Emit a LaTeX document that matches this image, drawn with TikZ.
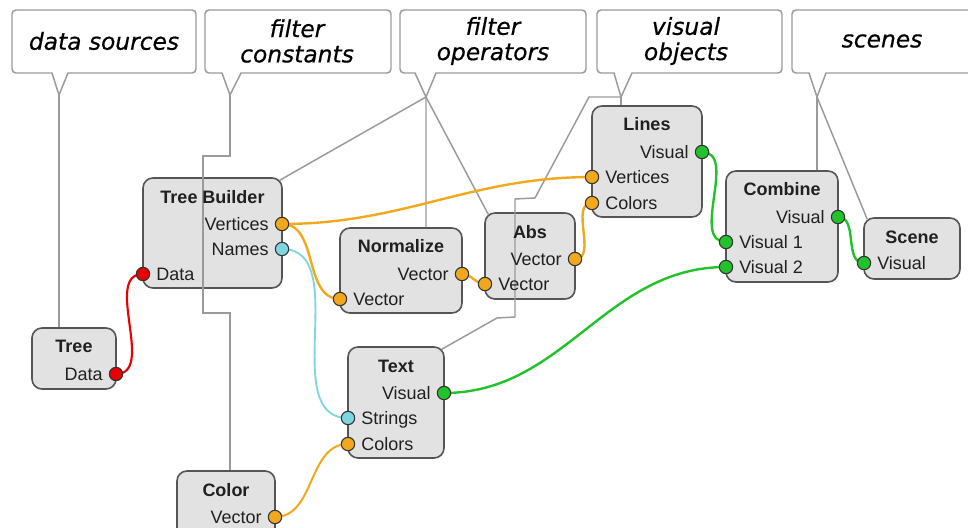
\documentclass[tikz,border=0pt]{standalone}
\usepackage{fontspec}
\setmainfont{Liberation Sans}
\newfontfamily\cfont{DejaVu Sans}[ItalicFeatures={FakeBold=0.6}]
\usetikzlibrary{fit,calc,backgrounds}
\pgfdeclarelayer{boxes}
\pgfdeclarelayer{guides}
\pgfdeclarelayer{wires}
\pgfsetlayers{boxes,guides,wires,main}
\definecolor{wred}{HTML}{E80000}
\definecolor{worange}{HTML}{F2A81D}
\definecolor{wcyan}{HTML}{80D6DE}
\definecolor{wgreen}{HTML}{22C22A}
\definecolor{boxfill}{HTML}{E2E2E2}
\definecolor{boxline}{HTML}{555555}
\definecolor{guide}{HTML}{9A9A9A}
\definecolor{txt}{HTML}{202020}
\begin{document}
\begin{tikzpicture}[x=0.75pt,y=-0.75pt,
  blk/.style={draw=boxline, fill=boxfill, line width=1.2pt, rounded corners=7.5pt, inner sep=0pt},
  ttl/.style={font=\fontsize{13.5}{16}\selectfont\bfseries, text=txt, inner sep=0pt},
  lbl/.style={font=\fontsize{13.5}{16}\selectfont, text=txt, inner sep=0pt, text height=9.7pt, text depth=0pt},
  outlbl/.style={lbl, anchor=east},
  inlbl/.style={lbl, anchor=west},
  port/.style={circle, draw=black!80, line width=0.8pt, minimum size=10pt, inner sep=0pt},
  wire/.style={line width=1.8pt},
  guideline/.style={draw=guide, line width=1.1pt},
  callout/.style={draw=guide, fill=white, line width=1.1pt},
  ctext/.style={font=\cfont\itshape\fontsize{17.5}{19}\selectfont, text=black, align=center, inner sep=0pt}
]
\useasboundingbox (0,0) rectangle (968,528);

% ---------------- callouts
\draw[callout] (59,95) -- (68,73) [rounded corners=3pt] -- (196,73) -- (196,10) -- (12,10) -- (12,73) [sharp corners] -- (52,73) -- cycle;
\node[ctext] (cDS) at (104,41) {data sources};
\coordinate (tDS) at (59,95);

\draw[callout] (230,95) -- (241,73) [rounded corners=3pt] -- (391,73) -- (391,10) -- (205,10) -- (205,73) [sharp corners] -- (222,73) -- cycle;
\node[ctext] (cFC) at (297,41) {filter\\constants};
\coordinate (tFC) at (230,95);

\draw[callout] (426,97) -- (436,73) [rounded corners=3pt] -- (586,73) -- (586,10) -- (400,10) -- (400,73) [sharp corners] -- (415,73) -- cycle;
\node[ctext] (cFO) at (493,41) {filter\\operators};
\coordinate (tFO) at (426,97);

\draw[callout] (621,97) -- (632,73) [rounded corners=3pt] -- (782,73) -- (782,10) -- (597,10) -- (597,73) [sharp corners] -- (614,73) -- cycle;
\node[ctext] (cVO) at (686,41) {visual\\objects};
\coordinate (tVO) at (621,97);

\draw[callout] (817,97) -- (826,73) [rounded corners=3pt] -- (985,73) -- (985,10) -- (792,10) -- (792,73) [sharp corners] -- (809,73) -- cycle;
\node[ctext] (cSC) at (882,41) {scenes};
\coordinate (tSC) at (817,97);

% ---------------- blocks
\begin{pgfonlayer}{boxes}
\node[blk, fit={(32,328) (116,389)}] (tree) {};
\node[blk, fit={(143,178) (282,288)}] (tb) {};
\node[blk, fit={(340,228) (462,313)}] (norm) {};
\node[blk, fit={(485,213) (575,299)}] (abs) {};
\node[blk, fit={(592,106) (702,217)}] (lines) {};
\node[blk, fit={(726,171) (838,282)}] (comb) {};
\node[blk, fit={(864,218) (960,279)}] (scene) {};
\node[blk, fit={(348,347) (444,458)}] (text) {};
\node[blk, fit={(177,471) (275,548)}] (color) {};
\end{pgfonlayer}

% titles
\node[ttl] (treeT) at (74,346) {Tree};
\node[ttl] (tbT) at (212.5,197) {Tree Builder};
\node[ttl] (normT) at (401,246) {Normalize};
\node[ttl] (absT) at (530,232) {Abs};
\node[ttl] (linesT) at (647,124) {Lines};
\node[ttl] (combT) at (782,189) {Combine};
\node[ttl] (sceneT) at (912,237) {Scene};
\node[ttl] (textT) at (396,366) {Text};
\node[ttl] (colorT) at (226,490) {Color};

% ports
\node[port, fill=wred] (treeD) at (116,374) {};
\node[outlbl] (treeDL) at (103,374) {Data};
\node[port, fill=wred] (tbD) at (143,274) {};
\node[inlbl] (tbDL) at (156,274) {Data};
\node[port, fill=worange] (tbV) at (282,224) {};
\node[outlbl] (tbVL) at (269,224) {Vertices};
\node[port, fill=wcyan] (tbN) at (282,249) {};
\node[outlbl] (tbNL) at (269,249) {Names};
\node[port, fill=worange] (normO) at (462,274) {};
\node[outlbl] (normOL) at (449,274) {Vector};
\node[port, fill=worange] (normI) at (340,299) {};
\node[inlbl] (normIL) at (353,299) {Vector};
\node[port, fill=worange] (absO) at (575,259) {};
\node[outlbl] (absOL) at (562,259) {Vector};
\node[port, fill=worange] (absI) at (485,284) {};
\node[inlbl] (absIL) at (498,284) {Vector};
\node[port, fill=wgreen] (linesO) at (702,152) {};
\node[outlbl] (linesOL) at (689,152) {Visual};
\node[port, fill=worange] (linesV) at (592,177) {};
\node[inlbl] (linesVL) at (605,177) {Vertices};
\node[port, fill=worange] (linesC) at (592,203) {};
\node[inlbl] (linesCL) at (605,203) {Colors};
\node[port, fill=wgreen] (combO) at (838,217) {};
\node[outlbl] (combOL) at (825,217) {Visual};
\node[port, fill=wgreen] (combA) at (726,242) {};
\node[inlbl] (combAL) at (739,242) {Visual 1};
\node[port, fill=wgreen] (combB) at (726,267) {};
\node[inlbl] (combBL) at (739,267) {Visual 2};
\node[port, fill=wgreen] (sceneI) at (864,263) {};
\node[inlbl] (sceneIL) at (877,263) {Visual};
\node[port, fill=wgreen] (textO) at (444,393) {};
\node[outlbl] (textOL) at (431,393) {Visual};
\node[port, fill=wcyan] (textS) at (348,418) {};
\node[inlbl] (textSL) at (361,418) {Strings};
\node[port, fill=worange] (textC) at (348,444) {};
\node[inlbl] (textCL) at (361,444) {Colors};
\node[port, fill=worange] (colorO) at (275,517) {};
\node[outlbl] (colorOL) at (262,517) {Vector};

% ---------------- guide lines
\begin{pgfonlayer}{guides}
\draw[guideline] (tDS) -- (tDS |- tree.north);
\draw[guideline] (tFC) -- ++(0,61) -- ++(-27,0) -- ++(0,157) -- ++(27,0) -- (tFC |- color.north);
\draw[guideline] ($(tb.north east)+(-3,3)$) -- (tFO) -- (tFO |- norm.north);
\draw[guideline] (tFO) -- ($(abs.north west)+(4,2)$);
\draw[guideline] (tVO) -- (tVO |- lines.north);
\draw[guideline] (tVO) -- ++(-32,0) -- ++(-54,101) -- ++(-20,1) -- ++(0,118) -- ++(-18,1) -- ($(text.north east)+(-3,3)$);
\draw[guideline] (tSC) -- (tSC |- comb.north);
\draw[guideline] (tSC) -- ($(scene.north west)+(4,2)$);
\end{pgfonlayer}

% ---------------- wires
\begin{pgfonlayer}{wires}
\draw[wire, wred, line width=1.6pt] (treeD.center) to[out=0,in=180] (tbD.center);
\draw[wire, worange] (tbV.center) to[out=0,in=180] (linesV.center);
\draw[wire, worange] (tbV.center) to[out=0,in=180] (normI.center);
\draw[wire, worange] (normO.center) to[out=0,in=180] (absI.center);
\draw[wire, worange] (absO.center) to[out=0,in=180] (linesC.center);
\draw[wire, wcyan, line width=1.4pt] (tbN.center) to[out=0,in=180] (textS.center);
\draw[wire, worange, line width=1.5pt] (colorO.center) to[out=0,in=180] (textC.center);
\draw[wire, wgreen] (linesO.center) to[out=0,in=180] (combA.center);
\draw[wire, wgreen] (textO.center) to[out=0,in=180] (combB.center);
\draw[wire, wgreen] (combO.center) to[out=0,in=180] (sceneI.center);
\end{pgfonlayer}
\end{tikzpicture}
\end{document}
